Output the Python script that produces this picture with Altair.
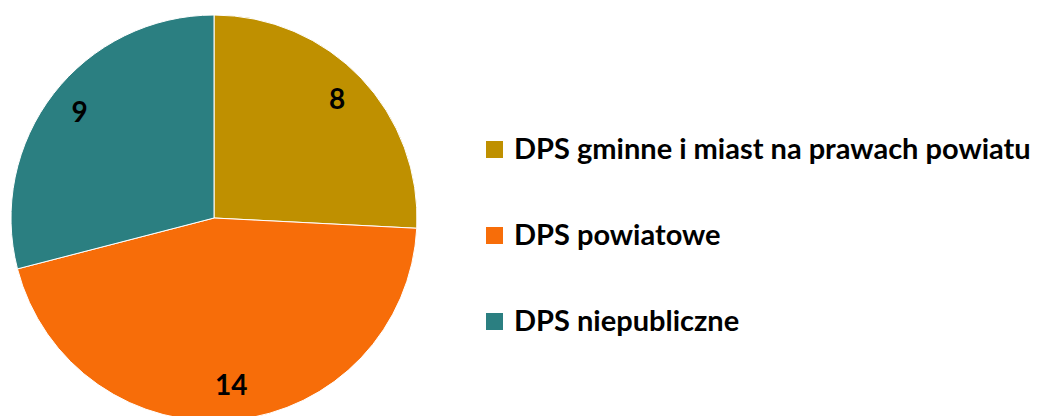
import altair as alt
import pandas as pd

categories = ["DPS gminne i miast na prawach powiatu", "DPS powiatowe", "DPS niepubliczne"]
values = [8, 14, 9]
colors = ["#BF9000", "#F76D09", "#2B7F81"]

df = pd.DataFrame({"kategoria": categories, "liczba": values, "order": [0, 1, 2]})

FONT = "Lato"
CX, CY = 206, 210

base = alt.Chart(df).encode(
    theta=alt.Theta("liczba:Q", stack=True),
    order=alt.Order("order:Q"),
)

pie = base.mark_arc(radius=203, stroke="white", strokeWidth=1, x=CX, y=CY).encode(
    color=alt.Color(
        "kategoria:N",
        sort=categories,
        scale=alt.Scale(domain=categories, range=colors),
        legend=alt.Legend(
            title=None,
            orient="none",
            legendX=472,
            legendY=127,
            symbolType="square",
            symbolSize=289,
            symbolStrokeWidth=0,
            labelFont=FONT,
            labelFontSize=29,
            labelFontWeight="bold",
            labelColor="#000000",
            labelOffset=5,
            rowPadding=56,
            labelLimit=700,
        ),
    )
)

labels = base.mark_text(
    radius=170, font=FONT, fontSize=28, fontWeight="bold", color="#000000", x=CX, y=CY
).encode(text="liczba:Q")

chart = (
    (pie + labels)
    .properties(width=1032, height=408, autosize=alt.AutoSizeParams(type="none"), padding=0)
    .configure_view(stroke=None)
    .configure(background="white")
)

chart.save("out.html", embed_options={"renderer": "svg", "actions": False})
